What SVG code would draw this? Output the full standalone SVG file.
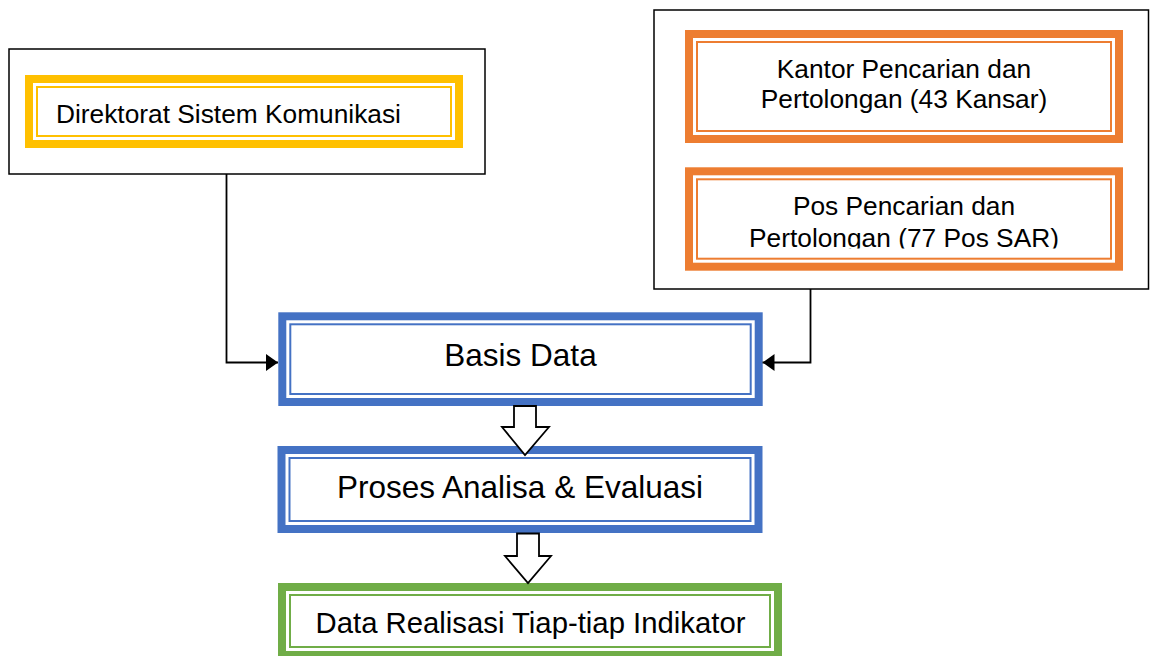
<svg xmlns="http://www.w3.org/2000/svg" width="1150" height="656" viewBox="0 0 1150 656">
<style>
.frame{fill:#fff;stroke:#000;stroke-width:1.5}
.band{fill:#fff;stroke-width:8}
.thin{fill:none;stroke-width:2}
.y{stroke:#FFC000}
.o{stroke:#ED7D31}
.b{stroke:#4472C4}
.g{stroke:#70AD47}
.t{font-family:"Liberation Sans",Arial,sans-serif;fill:#000}
.conn{fill:none;stroke:#000;stroke-width:1.8}
.hollow{fill:#fff;stroke:#000;stroke-width:1.8;stroke-linejoin:miter}
</style>
<defs>
<marker id="ah" viewBox="0 0 12 17" refX="12" refY="8.5" markerWidth="12" markerHeight="17" markerUnits="userSpaceOnUse" orient="auto">
<path d="M0,0 L12,8.5 L0,17 Z" fill="#000"/>
</marker>
<clipPath id="clip2"><rect x="697" y="180" width="414" height="68.5"/></clipPath>
</defs>
<rect width="1150" height="656" fill="#fff"/>

<g id="group-left">
<rect class="frame" x="9" y="49" width="476" height="125"/>
</g>
<g id="node-direktorat">
<rect class="band y" x="29" y="79" width="430" height="65"/>
<rect class="thin y" x="37" y="87" width="414" height="49"/>
<text class="t" x="56" y="123" font-size="26.3">Direktorat Sistem Komunikasi</text>
</g>

<g id="group-right">
<rect class="frame" x="654" y="10" width="494.5" height="279"/>
</g>
<g id="node-kantor">
<rect class="band o" x="689" y="34" width="430" height="105"/>
<rect class="thin o" x="697" y="42" width="414" height="89"/>
<text class="t" x="904" y="78" font-size="26.3" text-anchor="middle">Kantor Pencarian dan</text>
<text class="t" x="904" y="108" font-size="26.3" text-anchor="middle">Pertolongan (43 Kansar)</text>
</g>
<g id="node-pos">
<rect class="band o" x="689" y="171.3" width="430" height="95.4"/>
<rect class="thin o" x="697" y="179.3" width="414" height="79.4"/>
<g clip-path="url(#clip2)">
<text class="t" x="904" y="215" font-size="26.3" text-anchor="middle">Pos Pencarian dan</text>
<text class="t" x="904" y="246.5" font-size="26.3" text-anchor="middle">Pertolongan (77 Pos SAR)</text>
</g>
</g>

<g id="node-basis">
<rect class="band b" x="282.3" y="316.3" width="476.4" height="85.7"/>
<rect class="thin b" x="290.3" y="324.3" width="460.4" height="69.7"/>
<text class="t" x="520.5" y="366" font-size="31.5" text-anchor="middle">Basis Data</text>
</g>

<g id="node-proses">
<rect class="band b" x="281.5" y="450" width="477" height="79"/>
<rect class="thin b" x="289.5" y="458" width="461" height="63"/>
<text class="t" x="520" y="498" font-size="31.5" text-anchor="middle">Proses Analisa &amp; Evaluasi</text>
</g>

<g id="node-data">
<rect class="band g" x="282" y="587" width="496" height="68"/>
<rect class="thin g" x="290" y="595" width="480" height="52"/>
<text class="t" x="530.5" y="633" font-size="29.3" text-anchor="middle">Data Realisasi Tiap-tiap Indikator</text>
</g>

<g id="connectors">
<path class="conn" d="M226.5,174 V362.5 H278" marker-end="url(#ah)"/>
<path class="conn" d="M810.5,289 V362.5 H762.5" marker-end="url(#ah)"/>
<polygon class="hollow" points="514,406 536,406 536,427 549,427 525,455 502,427 514,427"/>
<polygon class="hollow" points="517,533.5 539,533.5 539,556 551,556 528,583 505,556 517,556"/>
</g>
</svg>
